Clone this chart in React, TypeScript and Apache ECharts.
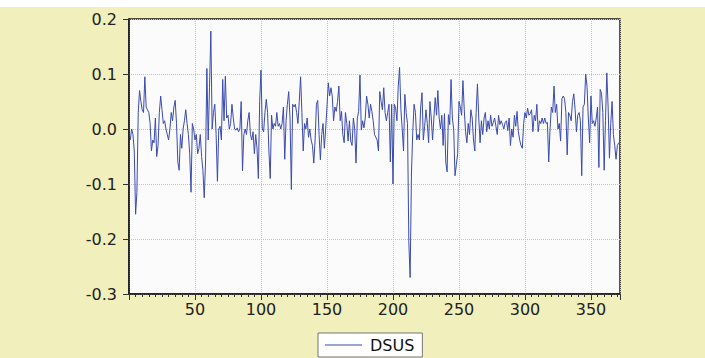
import React, { useEffect, useRef } from "react";
import * as echarts from "echarts";

const seriesName = "DSUS";
const xTickLabels = [50, 100, 150, 200, 250, 300, 350];
const yTickLabels = [-0.3, -0.2, -0.1, 0.0, 0.1, 0.2];
const dsus = [
  -0.02, 0.0, -0.01, -0.04, -0.155, -0.115, 0.03, 0.07, 0.05, 0.035,
  0.03, 0.095, 0.04, 0.035, 0.03, 0.01, -0.04, -0.02, -0.025, 0.02,
  -0.05, -0.03, 0.03, 0.06, 0.035, 0.01, 0.015, 0.0, -0.01, -0.02,
  0.0, 0.03, 0.015, 0.04, 0.052, 0.01, -0.06, -0.075, -0.01, -0.035,
  0.0, 0.015, 0.035, 0.01, -0.01, -0.045, -0.115, 0.01, 0.0, -0.02,
  -0.01, -0.045, -0.035, -0.01, -0.05, -0.075, -0.125, -0.06, 0.11, -0.02,
  0.075, 0.178, 0.0, 0.03, 0.045, -0.01, -0.095, 0.0, 0.005, -0.02,
  0.09, 0.015, 0.096, 0.02, 0.025, 0.0, 0.01, 0.045, 0.02, 0.0,
  -0.002, 0.002, -0.005, 0.0, 0.05, -0.076, -0.01, 0.0, -0.01, 0.015,
  0.03, -0.01, -0.02, -0.005, -0.045, -0.01, -0.035, -0.09, 0.05, 0.107,
  0.0, -0.005, 0.03, 0.054, 0.03, -0.04, -0.09, 0.025, 0.0, 0.01,
  0.005, 0.03, 0.005, 0.01, 0.0, 0.01, 0.04, -0.055, 0.015, 0.045,
  0.068, 0.02, -0.11, 0.045, 0.04, 0.045, 0.03, 0.01, 0.05, 0.095,
  0.03, -0.04, 0.01, 0.0, 0.02, -0.015, 0.0, -0.02, -0.03, -0.062,
  -0.02, 0.045, 0.052, -0.01, -0.056, -0.01, 0.01, -0.035, 0.0, 0.04,
  0.084, 0.06, 0.075, 0.06, 0.015, 0.04, 0.032, 0.05, 0.078, 0.015,
  0.032, -0.01, -0.025, 0.03, 0.01, -0.022, 0.015, -0.022, -0.03, 0.02,
  0.0, -0.062, 0.02, 0.032, 0.098, -0.002, 0.015, 0.002, 0.02, 0.06,
  0.045, 0.02, 0.045, 0.032, 0.015, -0.01, -0.015, -0.02, -0.04, 0.068,
  0.05, 0.035, 0.075, 0.03, 0.015, 0.03, 0.045, -0.06, 0.045, -0.1,
  0.045, 0.038, 0.015, 0.078, 0.112, 0.035, 0.0, -0.04, 0.063, 0.03,
  0.01, -0.205, -0.27, -0.08, -0.005, 0.045, 0.03, -0.02, -0.01, -0.02,
  0.04, 0.066, -0.02, 0.005, 0.035, 0.01, -0.025, 0.05, 0.02, -0.02,
  0.02, 0.057, 0.025, 0.07, 0.02, 0.0, 0.025, -0.03, 0.028, -0.06,
  -0.078, 0.026, 0.008, 0.09, 0.02, 0.0, -0.085, -0.065, -0.045, 0.05,
  0.04, 0.025, 0.088, 0.035, -0.005, -0.025, 0.01, -0.01, 0.035, 0.02,
  -0.02, -0.04, 0.03, 0.082, 0.02, -0.025, 0.015, -0.01, 0.02, 0.03,
  -0.005, 0.015, 0.0, 0.025, 0.005, 0.012, 0.02, 0.005, -0.01, 0.025,
  0.008, 0.015, 0.008, 0.0, 0.012, 0.015, -0.003, 0.02, -0.03, 0.0,
  -0.015, 0.025, 0.005, 0.032, -0.005, -0.02, -0.03, -0.035, 0.01, 0.03,
  0.02, 0.038, 0.025, 0.028, 0.035, -0.005, 0.025, 0.015, 0.045, -0.005,
  0.015, 0.01, 0.02, 0.01, 0.02, 0.01, 0.012, -0.06, 0.0, 0.04,
  0.03, 0.078, 0.03, 0.045, 0.0, 0.01, -0.022, 0.055, 0.06, 0.055,
  0.03, -0.047, 0.03, 0.025, 0.015, 0.05, 0.064, 0.035, -0.005, 0.025,
  0.03, 0.015, -0.085, 0.04, 0.045, 0.1, 0.078, 0.02, -0.025, 0.06,
  0.01, 0.015, 0.005, 0.02, 0.04, -0.07, 0.072, 0.065, 0.03, -0.075,
  0.015, 0.102, 0.04, -0.053, 0.01, 0.05, -0.01, -0.03, -0.055, -0.03, -0.025,
];

export default function App() {
  const ref = useRef<HTMLDivElement>(null);
  useEffect(() => {
    document.body.style.margin = "0";
    if (!ref.current) return;
    const chart = echarts.init(ref.current, null, { renderer: "svg" });
    const font = "DejaVu Sans";
    chart.setOption({
      animation: false,
      backgroundColor: "#F1EFBB",
      graphic: [
        {
          type: "rect",
          left: 0,
          top: 0,
          shape: { width: 705, height: 7 },
          style: { fill: "#ffffff" },
          silent: true,
        },
      ],
      grid: {
        left: 129,
        top: 19,
        right: 85,
        bottom: 64,
        show: true,
        backgroundColor: "#FBFBFB",
        borderColor: "#1a1a1a",
        borderWidth: 1.5,
      },
      legend: {
        left: 318,
        top: 333,
        padding: [4, 8, 4, 7],
        itemWidth: 37,
        itemHeight: 1,
        icon: "rect",
        backgroundColor: "#ffffff",
        borderColor: "#777777",
        borderWidth: 1,
        borderRadius: 0,
        textStyle: { fontFamily: font, fontSize: 16, color: "#111", padding: [0, 0, 0, 3] },
        data: [seriesName],
      },
      xAxis: {
        type: "value",
        min: 0,
        max: 372,
        interval: 50,
        axisLine: { show: true, onZero: false, lineStyle: { color: "#1a1a1a", width: 1.5 } },
        axisTick: { show: true, length: 6, lineStyle: { color: "#333" } },
        minorTick: { show: true, splitNumber: 10, length: 3, lineStyle: { color: "#333" } },
        splitLine: { show: true, lineStyle: { color: "#c4c4c4", type: "dotted", width: 1 } },
        axisLabel: {
          margin: 7,
          fontFamily: font,
          fontSize: 16,
          color: "#222",
          showMinLabel: false,
          showMaxLabel: false,
          formatter: (v: number) => (xTickLabels.includes(v) ? String(v) : ""),
        },
      },
      yAxis: {
        type: "value",
        min: -0.3,
        max: 0.2,
        interval: 0.1,
        axisLine: { show: true, lineStyle: { color: "#1a1a1a", width: 1.5 } },
        axisTick: { show: true, length: 6, lineStyle: { color: "#333" } },
        splitLine: { show: true, lineStyle: { color: "#c4c4c4", type: "dotted", width: 1 } },
        axisLabel: {
          margin: 12,
          fontFamily: font,
          fontSize: 16,
          color: "#222",
          formatter: (v: number) => {
            const r = Math.round(v * 10) / 10;
            const hit = yTickLabels.find((t) => Math.abs(t - r) < 1e-9);
            return hit === undefined ? "" : (Math.abs(r) < 1e-9 ? 0 : r).toFixed(1);
          },
        },
      },
      series: [
        {
          name: seriesName,
          type: "line",
          data: dsus.map((v, i) => [i + 1, v]),
          symbol: "none",
          lineStyle: { color: "#3B4BAE", width: 1 },
          itemStyle: { color: "#3B4BAE" },
        },
      ],
    });
    return () => chart.dispose();
  }, []);
  return <div ref={ref} style={{ width: 705, height: 358 }} />;
}
